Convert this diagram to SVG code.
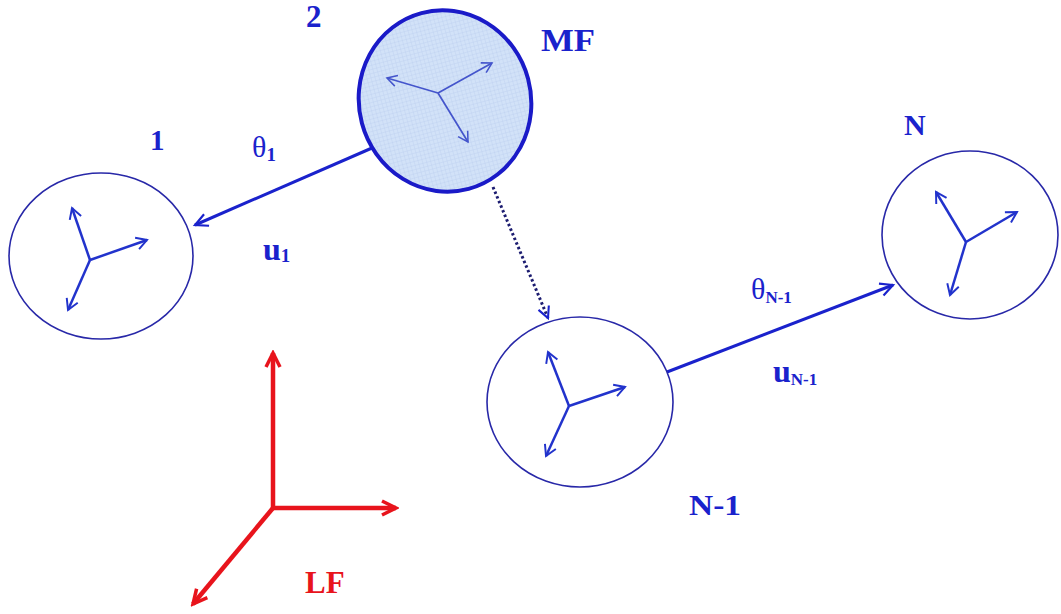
<svg xmlns="http://www.w3.org/2000/svg" width="1061" height="614" viewBox="0 0 1061 614">
<style>
.lbl{font-family:"Liberation Serif","Times New Roman",serif;font-weight:bold;fill:#1a22cc}
.sym{font-family:"Liberation Serif","Times New Roman",serif;fill:#1a22cc}
.node{fill:none;stroke:#2828a8;stroke-width:1.6}
.ax{stroke:#2233cc;stroke-width:2.5;fill:none}
.axmf{stroke:#4455cc;stroke-width:1.7;fill:none}
.red{stroke:#e8141c;stroke-width:4.5;fill:none}
</style>
<defs>
<pattern id="grid" width="4" height="4" patternUnits="userSpaceOnUse">
<rect width="4" height="4" fill="#d2e2f8"/>
<path d="M4,0 V4 M0,4 H4" stroke="#b6cbee" stroke-width="0.7"/>
</pattern>
<marker id="ab" viewBox="0 0 20 20" refX="17" refY="10" markerWidth="15" markerHeight="15" markerUnits="userSpaceOnUse" orient="auto">
<path d="M3,2 L17,10 L3,18" fill="none" stroke="#2233cc" stroke-width="2.6"/>
</marker>
<marker id="abm" viewBox="0 0 20 20" refX="17" refY="10" markerWidth="14" markerHeight="14" markerUnits="userSpaceOnUse" orient="auto">
<path d="M3,2 L17,10 L3,18" fill="none" stroke="#4455cc" stroke-width="2.2"/>
</marker>
<marker id="ac" viewBox="0 0 20 20" refX="17" refY="10" markerWidth="18" markerHeight="18" markerUnits="userSpaceOnUse" orient="auto">
<path d="M3,3 L17,10 L3,17" fill="none" stroke="#1a22cc" stroke-width="2.4"/>
</marker>
<marker id="ad" viewBox="0 0 20 20" refX="17" refY="10" markerWidth="16" markerHeight="16" markerUnits="userSpaceOnUse" orient="auto">
<path d="M3,3 L17,10 L3,17" fill="none" stroke="#1a22cc" stroke-width="2.6"/>
</marker>
<marker id="ar" viewBox="0 0 20 20" refX="17" refY="10" markerWidth="20" markerHeight="20" markerUnits="userSpaceOnUse" orient="auto">
<path d="M3,3 L17,10 L3,17" fill="none" stroke="#e8141c" stroke-width="3.5"/>
</marker>
</defs>
<rect width="1061" height="614" fill="#ffffff"/>

<g id="connectors">
<line x1="372" y1="148" x2="195" y2="225" stroke="#1a22cc" stroke-width="3" marker-end="url(#ac)"/>
<line x1="493" y1="187" x2="548" y2="318" stroke="#1c1c70" stroke-width="3" stroke-dasharray="2.5 2.5" marker-end="url(#ad)"/>
<line x1="667" y1="372" x2="893" y2="285" stroke="#1a22cc" stroke-width="3" marker-end="url(#ac)"/>
</g>

<g id="node-MF">
<ellipse cx="445" cy="101" rx="86" ry="91" transform="rotate(-15 445 101)" fill="url(#grid)" stroke="#1a1ac8" stroke-width="4"/>
<line class="axmf" x1="438" y1="93" x2="387" y2="78" marker-end="url(#abm)"/>
<line class="axmf" x1="438" y1="93" x2="492" y2="63" marker-end="url(#abm)"/>
<line class="axmf" x1="438" y1="93" x2="468" y2="142" marker-end="url(#abm)"/>
<text class="lbl" x="306" y="27" font-size="31">2</text>
<text class="lbl" x="541" y="51" font-size="31" textLength="54" lengthAdjust="spacingAndGlyphs">MF</text>
</g>

<g id="node-1">
<ellipse class="node" cx="101" cy="256" rx="92" ry="83"/>
<line class="ax" x1="90" y1="260" x2="72" y2="208" marker-end="url(#ab)"/>
<line class="ax" x1="90" y1="260" x2="147" y2="240" marker-end="url(#ab)"/>
<line class="ax" x1="90" y1="260" x2="68" y2="310" marker-end="url(#ab)"/>
<text class="lbl" x="150" y="150" font-size="29">1</text>
</g>

<g id="node-N-1">
<ellipse class="node" cx="580" cy="402" rx="93" ry="85"/>
<line class="ax" x1="569" y1="406" x2="548" y2="352" marker-end="url(#ab)"/>
<line class="ax" x1="569" y1="406" x2="625" y2="387" marker-end="url(#ab)"/>
<line class="ax" x1="569" y1="406" x2="546" y2="456" marker-end="url(#ab)"/>
<text class="lbl" x="689" y="515" font-size="29" textLength="52" lengthAdjust="spacingAndGlyphs">N-1</text>
</g>

<g id="node-N">
<ellipse class="node" cx="970" cy="235" rx="88" ry="84"/>
<line class="ax" x1="966" y1="242" x2="936" y2="192" marker-end="url(#ab)"/>
<line class="ax" x1="966" y1="242" x2="1017" y2="212" marker-end="url(#ab)"/>
<line class="ax" x1="966" y1="242" x2="950" y2="295" marker-end="url(#ab)"/>
<text class="lbl" x="904" y="135" font-size="30">N</text>
</g>

<g id="labels">
<text class="sym" x="252" y="157" font-size="30">θ<tspan class="lbl" font-size="19" dy="4">1</tspan></text>
<text class="lbl" x="263" y="260" font-size="32">u<tspan font-size="19" dy="2">1</tspan></text>
<text class="sym" x="751" y="299" font-size="30">θ<tspan class="lbl" font-size="17" dy="4">N-1</tspan></text>
<text class="lbl" x="773" y="382" font-size="32">u<tspan font-size="17" dy="3">N-1</tspan></text>
</g>

<g id="LF">
<line class="red" x1="273" y1="508" x2="273" y2="353" marker-end="url(#ar)"/>
<line class="red" x1="271" y1="508" x2="396" y2="508" marker-end="url(#ar)"/>
<line class="red" x1="273" y1="508" x2="193" y2="604" marker-end="url(#ar)"/>
<text x="305" y="593" font-size="31" font-family="Liberation Serif, Times New Roman, serif" font-weight="bold" fill="#e8141c">LF</text>
</g>
</svg>
